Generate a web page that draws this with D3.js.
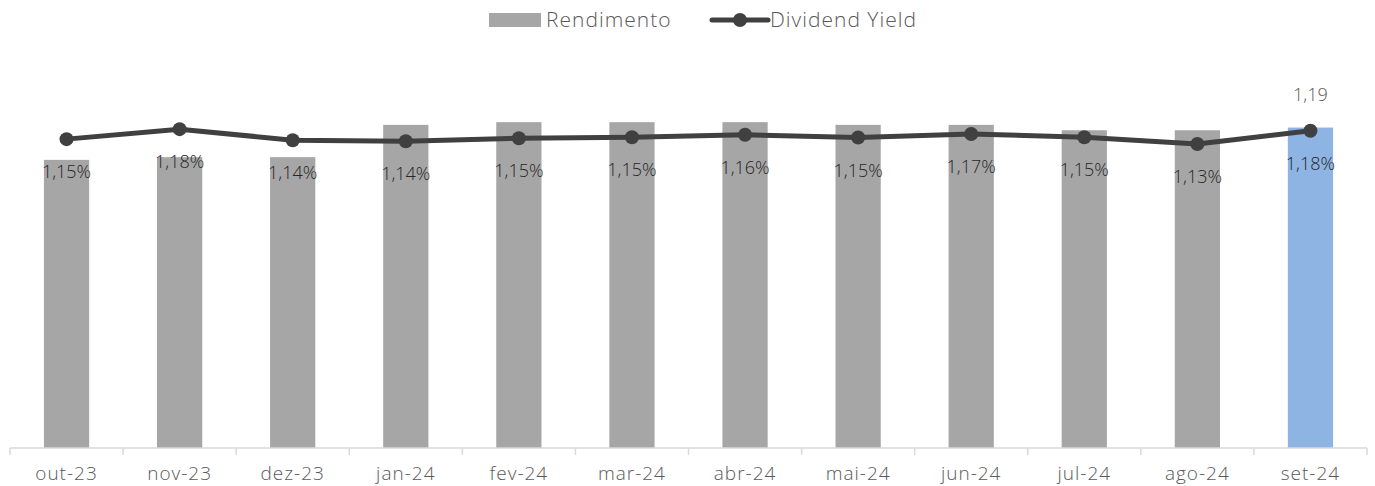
<!DOCTYPE html>
<html lang="pt">
<head>
<meta charset="utf-8">
<script src="https://d3js.org/d3.v7.min.js"></script>
<style>
    body { margin: 0; background: #fff; }
    svg text { font-family: "Open Sans", sans-serif; font-weight: 300; }
</style>
</head>
<body>
<div id="grafico"></div>
<script>
    const meses = ['out-23', 'nov-23', 'dez-23', 'jan-24', 'fev-24', 'mar-24',
                   'abr-24', 'mai-24', 'jun-24', 'jul-24', 'ago-24', 'set-24'];
    const rendimento = [1.07, 1.08, 1.08, 1.20, 1.21, 1.21, 1.21, 1.20, 1.20, 1.18, 1.18, 1.19];
    const dividendYield = [1.147, 1.184, 1.143, 1.139, 1.150, 1.154, 1.163, 1.153, 1.166, 1.154, 1.129, 1.178];
    const legendas = ['Rendimento', 'Dividend Yield'];

    const largura = 1375, altura = 486;
    const cinza = '#a6a6a6', azul = '#8eb4e3', linhaCor = '#404040', texto = '#595959';

    const svg = d3.select('#grafico').append('svg')
        .attr('width', largura).attr('height', altura);

    const x = d3.scaleBand().domain(meses).range([10, 1367]).paddingInner(0.6).paddingOuter(0.3);
    const xPasso = d3.scaleBand().domain(meses).range([10, 1367]);
    const y = d3.scaleLinear().domain([0, 1.4]).range([448, 71]);

    // barras
    svg.selectAll('rect.barra')
        .data(rendimento)
        .join('rect')
        .attr('class', 'barra')
        .attr('x', (d, i) => x(meses[i]))
        .attr('width', x.bandwidth())
        .attr('y', d => y(d))
        .attr('height', d => y(0) - y(d))
        .attr('fill', (d, i) => i === meses.length - 1 ? azul : cinza);

    // rótulo da última barra
    const ult = meses.length - 1;
    svg.append('text')
        .attr('x', x(meses[ult]) + x.bandwidth() / 2)
        .attr('y', y(rendimento[ult]) - 27)
        .attr('text-anchor', 'middle')
        .attr('font-size', 18)
        .attr('fill', texto)
        .text(rendimento[ult].toFixed(2).replace('.', ','));

    // eixo x
    const eixo = svg.append('g').attr('transform', `translate(0,${y(0)})`);
    eixo.append('line').attr('x1', 10).attr('x2', 1367).attr('stroke', '#d9d9d9').attr('stroke-width', 1.5);
    eixo.selectAll('line.tick')
        .data(meses.concat(['fim']))
        .join('line')
        .attr('class', 'tick')
        .attr('x1', (d, i) => i < meses.length ? xPasso(d) : 1367)
        .attr('x2', (d, i) => i < meses.length ? xPasso(d) : 1367)
        .attr('y1', 0).attr('y2', 7)
        .attr('stroke', '#d9d9d9').attr('stroke-width', 1.5);
    eixo.selectAll('text')
        .data(meses)
        .join('text')
        .attr('x', d => xPasso(d) + xPasso.bandwidth() / 2)
        .attr('y', 32)
        .attr('text-anchor', 'middle')
        .attr('font-size', 19)
        .attr('letter-spacing', 1)
        .attr('fill', texto)
        .text(d => d);

    // linha do dividend yield
    const cx = (d, i) => x(meses[i]) + x.bandwidth() / 2;
    svg.append('path')
        .datum(dividendYield)
        .attr('d', d3.line().x(cx).y(d => y(d)))
        .attr('fill', 'none')
        .attr('stroke', linhaCor)
        .attr('stroke-width', 5)
        .attr('stroke-linejoin', 'round');
    svg.selectAll('circle.ponto')
        .data(dividendYield)
        .join('circle')
        .attr('class', 'ponto')
        .attr('cx', cx)
        .attr('cy', d => y(d))
        .attr('r', 7)
        .attr('fill', linhaCor);
    svg.selectAll('text.rotulo')
        .data(dividendYield)
        .join('text')
        .attr('class', 'rotulo')
        .attr('x', cx)
        .attr('y', d => y(d) + 39)
        .attr('text-anchor', 'middle')
        .attr('font-size', 18)
        .attr('fill', '#262626')
        .text(d => d.toFixed(2).replace('.', ',') + '%');

    // legenda
    const leg = svg.append('g');
    leg.append('rect').attr('x', 489).attr('y', 13).attr('width', 52).attr('height', 14).attr('fill', cinza);
    leg.append('text').attr('x', 546).attr('y', 27).attr('font-size', 21).attr('letter-spacing', 1)
        .attr('fill', texto).text(legendas[0]);
    leg.append('line').attr('x1', 712).attr('x2', 768).attr('y1', 20).attr('y2', 20)
        .attr('stroke', linhaCor).attr('stroke-width', 5).attr('stroke-linecap', 'round');
    leg.append('circle').attr('cx', 740).attr('cy', 20).attr('r', 7).attr('fill', linhaCor);
    leg.append('text').attr('x', 770).attr('y', 27).attr('font-size', 21).attr('letter-spacing', 1)
        .attr('fill', texto).text(legendas[1]);
</script>
</body>
</html>
